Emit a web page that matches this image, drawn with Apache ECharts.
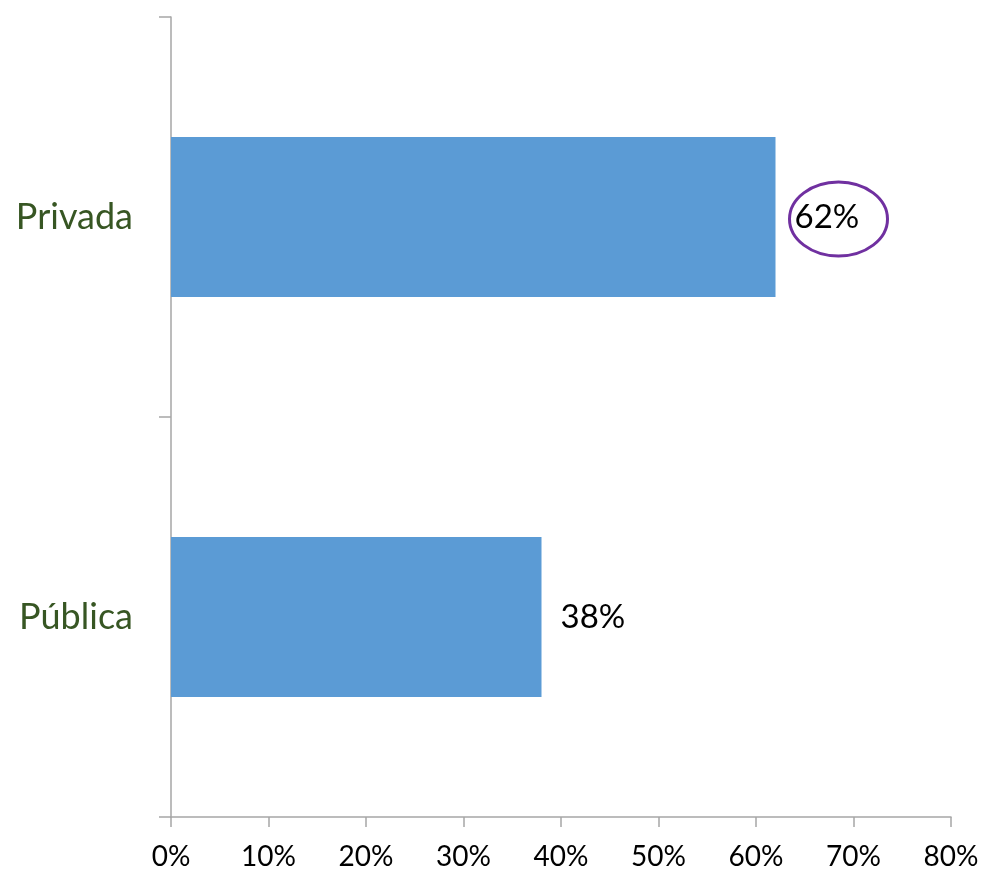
<!DOCTYPE html>
<html><head><meta charset="utf-8">
<script src="https://cdn.jsdelivr.net/npm/echarts@6/dist/echarts.min.js"></script>
<style>html,body{margin:0;padding:0;background:#fff}#c{width:985px;height:871px}</style>
</head><body><div id="c"></div>
<script>
const categories = ['Pública', 'Privada'];
const values = [38, 62];
const highlighted = 'Privada';
const xTicks = [0, 10, 20, 30, 40, 50, 60, 70, 80];

const FONT = 'Lato';
const chart = echarts.init(document.getElementById('c'));
chart.setOption({
  animation: false,
  grid: { left: 171, right: 34, top: 17, bottom: 53 },
  xAxis: {
    type: 'value', min: xTicks[0], max: xTicks[xTicks.length - 1], interval: 10,
    axisLine: { show: true, lineStyle: { color: '#A6A6A6', width: 1.5 } },
    axisTick: { show: true, length: 10, lineStyle: { color: '#A6A6A6', width: 1.5 } },
    splitLine: { show: false },
    axisLabel: { formatter: '{value}%', color: '#000', fontSize: 28, fontFamily: FONT, margin: 26 }
  },
  yAxis: {
    type: 'category', data: categories,
    axisLine: { show: true, lineStyle: { color: '#A6A6A6', width: 1.5 } },
    axisTick: { show: true, length: 12, lineStyle: { color: '#A6A6A6', width: 1.5 } },
    axisLabel: { color: '#375623', fontSize: 36, fontFamily: FONT, margin: 38 }
  },
  series: [{
    type: 'bar', data: values, barCategoryGap: '60%',
    itemStyle: { color: '#5B9BD5' },
    label: { show: true, position: 'right', distance: 19, formatter: '{c}%', color: '#000', fontSize: 33, fontFamily: FONT }
  }]
});
const idx = categories.indexOf(highlighted);
const p = chart.convertToPixel({ gridIndex: 0 }, [values[idx], categories[idx]]);
chart.setOption({
  graphic: [{
    type: 'ellipse', shape: { cx: p[0] + 63, cy: p[1] + 2, rx: 49, ry: 37 },
    style: { fill: 'none', stroke: '#7030A0', lineWidth: 3 }, z: 10
  }]
});
</script></body></html>
